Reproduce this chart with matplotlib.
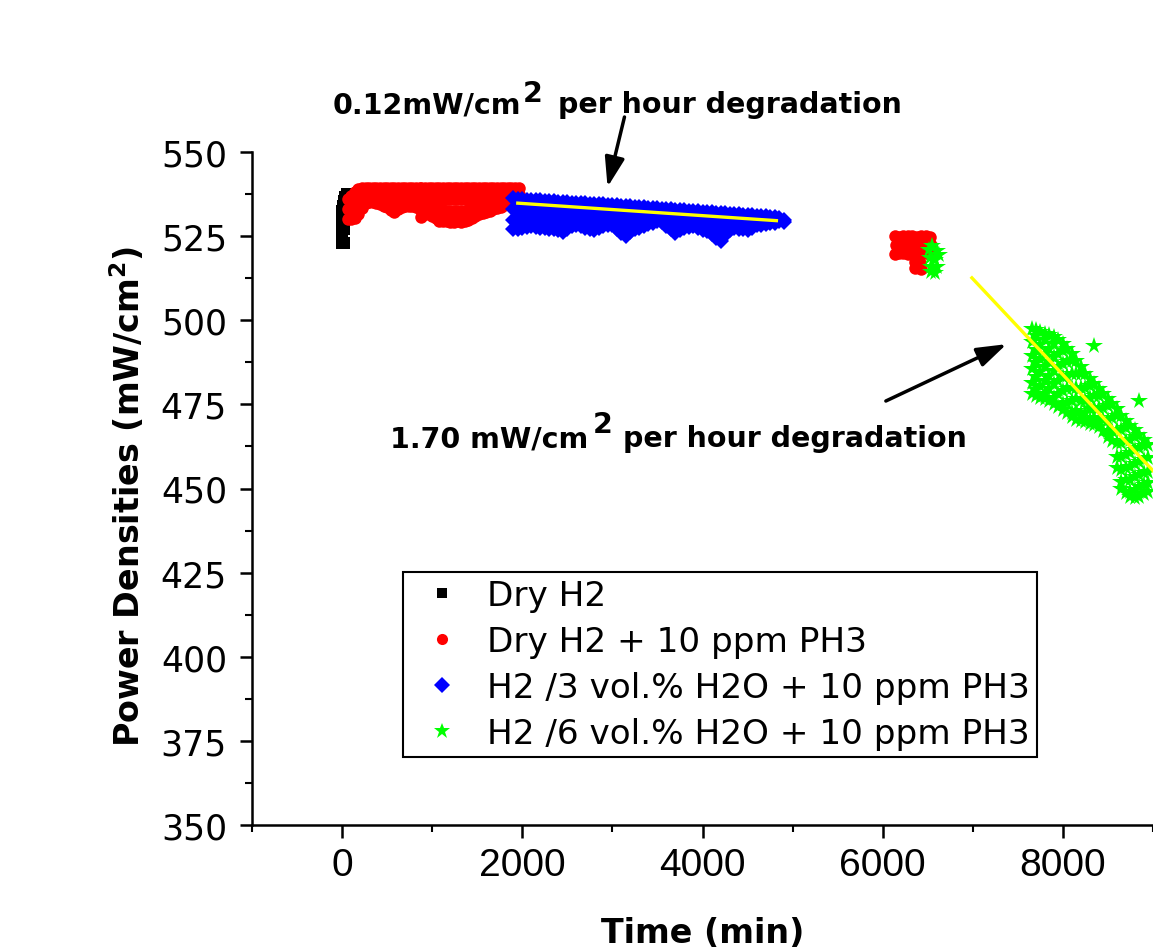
import matplotlib
matplotlib.use("Agg")
import matplotlib.pyplot as plt
from matplotlib.lines import Line2D
from matplotlib.ticker import MultipleLocator

W, H = 1153, 953

# ---------------- data ----------------
series_labels = ["Dry H2", "Dry H2 + 10 ppm PH3",
                 "H2 /3 vol.% H2O + 10 ppm PH3", "H2 /6 vol.% H2O + 10 ppm PH3"]

x_ticks = [0, 2000, 4000, 6000, 8000]
y_ticks = [350, 375, 400, 425, 450, 475, 500, 525, 550]

# Dry H2 (time in min, power density readings)
dry_t = [0, 0, 0, 0, 0, 25, 25, 10, 20, 35, 50]
dry_v = [523, 525.5, 528, 530.5, 532.5, 523, 527, 534, 535.5, 536.5, 537.5]

# Dry H2 + 10 ppm PH3 : readings grouped by time (first period)
ph3_col_t = [60, 100, 140, 180, 220, 260, 300, 340, 380, 420, 460, 500, 540, 580, 620,
             660, 700, 740, 780, 820, 860, 880, 920, 960, 1000, 1040, 1080, 1120, 1160,
             1200, 1240, 1280, 1320, 1360, 1400, 1440, 1480, 1520, 1560, 1600, 1640,
             1680, 1720, 1760, 1800, 1840, 1880, 1920, 1960]
ph3_col_v = [[536, 533, 530], [537, 533.5, 530], [538, 535, 532, 530.3],
             [539, 536, 533, 531.5], [539.3, 536.5, 533.5], [539.3, 537, 534.7],
             [539.3, 537, 535], [539.3, 537, 535], [539.3, 537, 534.8],
             [539.3, 537, 534.5], [539.3, 536.5, 534], [539.3, 536.5, 533.6],
             [539.3, 536, 532.8], [539.3, 536, 532.2], [539.3, 536.5, 533.2],
             [539.3, 536.5, 533.8], [539.3, 536.5, 534], [539.3, 536.5, 534],
             [539.3, 536.5, 534], [539.3, 536.5, 533.8], [539.3, 536, 533],
             [539.3, 536, 533, 530.6], [539.3, 536, 533.5, 531.5], [539.3, 536.3, 533.6, 531.6],
             [539.3, 536.2, 533.2, 531], [539.3, 536, 533, 530.5], [539.3, 536, 532.7, 529.6],
             [539.3, 536, 532.7, 529.5], [539.3, 536, 532.6, 529.4], [539.3, 536, 532.6, 529.3],
             [539.3, 536, 532.6, 529.3], [539.3, 536, 532.6, 529.5], [539.3, 536, 532.6, 529.3],
             [539.3, 536, 532.6, 529.5], [539.3, 536, 532.7, 529.8], [539.3, 536, 533, 530.5],
             [539.3, 536.2, 533.2, 531], [539.3, 536.4, 533.5, 531.6], [539.3, 536.4, 533.5, 531.8],
             [539.3, 536.5, 533.8, 532.2], [539.3, 536.5, 534, 532.6], [539.3, 536.5, 534, 533],
             [539.3, 536.5, 533.4], [539.3, 536.5, 533.6], [539.3, 536.8, 534.2],
             [539.3, 537, 534.6], [539.3, 537.2, 535.2], [539.3, 537.5, 536], [539.3, 537.6, 536]]

# Dry H2 + 10 ppm PH3 (second period, ~6100-6550 min)
ph3b_t = [6140, 6180, 6230, 6280, 6330, 6380, 6430, 6480, 6530,
          6150, 6200, 6250, 6300, 6350, 6400, 6450, 6500, 6540,
          6140, 6180, 6230, 6280, 6330, 6380, 6430, 6480, 6530,
          6360, 6410, 6360, 6420]
ph3b_v = [525, 524.8, 525.1, 524.9, 525, 524.7, 525, 524.9, 524.8,
          522.3, 522.6, 522.2, 522.4, 522.3, 522.5, 522.1, 522.4, 522.3,
          519.8, 520, 519.9, 519.7, 520, 519.8, 519.9, 520, 519.7,
          517.3, 517.1, 515.5, 515.3]

# H2 / 3 vol.% H2O + 10 ppm PH3 : readings grouped by time
h3_col_t = [1900, 1950, 2000, 2050, 2100, 2150, 2200, 2250, 2300, 2350, 2400, 2450,
            2500, 2550, 2600, 2650, 2700, 2750, 2800, 2850, 2900, 2950, 3000, 3050,
            3100, 3150, 3200, 3250, 3300, 3350, 3400, 3450, 3500, 3550, 3600, 3650,
            3700, 3750, 3800, 3850, 3900, 3950, 4000, 4050, 4100, 4150, 4200, 4250,
            4300, 4350, 4400, 4450, 4500, 4550, 4600, 4650, 4700, 4750, 4800, 4850, 4900]
h3_col_v = [[536.2, 533, 529.8, 527], [536, 533, 530, 527.2], [535.9, 533, 530, 527.5],
            [535.8, 533, 530, 527.7], [535.8, 533, 530.2, 528], [535.7, 532.8, 530, 527.7],
            [535.6, 532.8, 530, 527.5], [535.5, 532.7, 529.8, 527.4], [535.4, 532.6, 529.8, 527.2],
            [535.3, 532.5, 529.5, 527.2], [535.2, 532.4, 529.4, 526.8], [535.1, 532.3, 529.2, 526.3],
            [535, 532.3, 529.5, 527.2], [534.9, 532.3, 529.8, 528], [534.8, 532.3, 530, 528.4],
            [534.8, 532.2, 529.8, 528], [534.7, 532, 529.4, 527.5], [534.6, 532, 529.2, 527.2],
            [534.5, 531.9, 529, 526.9], [534.4, 531.8, 529.2, 527.4], [534.4, 531.8, 529.5, 527.9],
            [534.3, 531.8, 529.8, 528.2], [534.2, 531.7, 529.8, 528.4], [534.2, 531.6, 529.2, 527.2],
            [534.1, 531.5, 528.8, 526], [534, 531.3, 528.4, 525], [533.9, 531.3, 528.6, 526.2],
            [533.8, 531.3, 529, 527.2], [533.7, 531.3, 529.2, 527.4], [533.6, 531.3, 529.5, 528],
            [533.5, 531.3, 529.6, 528.7], [533.4, 531.3, 529.7, 529], [533.3, 531.3, 529.4],
            [533.2, 531.2, 529.2], [533.1, 531, 528.8, 528], [533, 530.8, 528.5, 527],
            [532.9, 530.6, 528.2, 526], [532.8, 530.6, 528.3, 526.7], [532.7, 530.6, 528.5, 527.4],
            [532.6, 530.5, 528.7, 527.7], [532.5, 530.4, 528.8, 527.9], [532.4, 530.3, 528.5, 527.4],
            [532.3, 530.2, 528.2, 526.8], [532.2, 530, 528, 526.4], [532.1, 529.8, 527.3, 525.5],
            [532, 529.6, 526.8, 524.5], [531.9, 529.5, 526.4, 523.6], [531.8, 529.5, 527, 525.2],
            [531.7, 529.5, 527.8, 526.8], [531.6, 529.5, 528, 527.4], [531.5, 529.4, 527.8, 527.2],
            [531.4, 529.3, 527.7, 527], [531.3, 529.2, 527.5, 526.9], [531.2, 529.2, 527.7, 527.4],
            [531.1, 529.3, 528.2], [531, 529.5, 528.4], [530.9, 529.6, 528.6],
            [530.8, 529.7, 528.8], [530.7, 529.8, 529], [530.5, 529.7, 529.4], [529.9, 529.3]]

# H2 / 6 vol.% H2O + 10 ppm PH3 : readings grouped by time
h6_col_t = [6510, 6550, 6600, 6630, 6520, 6580, 6540, 6600, 6540, 6580,
            7660, 7700, 7750, 7800, 7850, 7900, 7950, 8000, 8050, 8100, 8150, 8200,
            8250, 8300, 8350, 8400, 8450, 8500, 8550, 8600, 8650, 8700, 8750, 8800,
            8850, 8900, 8950, 8340, 8840]
h6_col_v = [[521], [522], [520.5], [519.5], [518.5], [518], [515.8], [515.8], [514.2], [514],
            [497.5, 493.5, 489.5, 485.5, 481.5, 478],
            [497.2, 495.2, 491.2, 487.2, 483.2, 479.2, 477.5],
            [496.5, 492.5, 488.5, 484.5, 480.5, 477],
            [496, 494, 490, 486, 482, 478, 476.5],
            [495.5, 491.5, 487.5, 483.5, 479.5, 476],
            [495, 493, 489, 485, 481, 477, 475],
            [494, 490, 486, 482, 478, 474.3],
            [493, 491, 487, 483, 479, 475, 473.3],
            [491.5, 487.5, 483.5, 479.5, 475.5, 472.5],
            [490, 488, 484, 480, 476, 472.5, 471.2],
            [488, 484, 480, 476.5, 473, 470.3],
            [486, 484, 480, 476, 472, 470],
            [484, 480, 476, 472.5, 469.7],
            [482.5, 480.5, 477, 473.5, 470.5, 469.2],
            [481, 477.5, 474, 471, 468.8],
            [479.5, 477.5, 474, 470.5, 468.3],
            [478, 474, 470.3, 467],
            [476.5, 474.5, 470.5, 467, 465.3],
            [475, 471, 467.2, 464],
            [473.5, 471.5, 467.5, 463.5, 459.5, 456],
            [471.5, 467.5, 463.5, 459.5, 455.5, 452, 450],
            [470, 468, 464, 460, 456, 452.5, 448.8],
            [468.5, 464.5, 460.5, 456.5, 452.5, 449, 447.5],
            [467.3, 465.3, 461.3, 457.3, 453.3, 449.5, 447.2],
            [466, 462, 458, 454, 450.5, 447.5],
            [464.5, 462.5, 458.5, 454.5, 451, 448.5],
            [463, 459, 455, 451.5, 449],
            [492.4], [476]]

# linear degradation fits
fit3_t = [1950, 4820]
fit3_v = [534.8, 529.6]
fit6_t = [6990, 9000]
fit6_v = [512.6, 455.3]


def flatten(col_t, col_v):
    ts = [t for t, vs in zip(col_t, col_v) for _ in vs]
    vs = [v for vals in col_v for v in vals]
    return ts, vs


# ---------------- figure ----------------
ph3_t, ph3_v = flatten(ph3_col_t, ph3_col_v)
h3_t, h3_v = flatten(h3_col_t, h3_col_v)
h6_t, h6_v = flatten(h6_col_t, h6_col_v)

fig = plt.figure(figsize=(W / 100, H / 100), dpi=100)
ax = fig.add_axes([252 / W, 1 - 826 / H, 901 / W, 673 / H])

ax.plot(dry_t, dry_v, "s", color="black", ms=9, mew=0, zorder=3)
ax.plot(ph3_t + ph3b_t, ph3_v + ph3b_v, "o", color="#ff0000", ms=9, mew=0, zorder=4)
ax.plot(h3_t, h3_v, "D", color="#0000ff", ms=8, mew=0, zorder=5)
ax.plot(h6_t, h6_v, "*", color="#00ff00", ms=13, mew=0, zorder=6)
ax.plot(fit3_t, fit3_v, color="#ffff00", lw=2.4, zorder=7)
ax.plot(fit6_t, fit6_v, color="#ffff00", lw=2.4, zorder=7)

ax.set_xlim(-1000, 9000)
ax.set_ylim(350, 550)
ax.set_xticks(x_ticks)
ax.set_xticklabels([str(v) for v in x_ticks], fontfamily="Liberation Sans")
ax.set_yticks(y_ticks)
ax.xaxis.set_minor_locator(MultipleLocator(1000))
ax.yaxis.set_minor_locator(MultipleLocator(12.5))

for s in ["top", "right"]:
    ax.spines[s].set_visible(False)
for s in ["left", "bottom"]:
    ax.spines[s].set_linewidth(1.8)

ax.tick_params(which="major", direction="out", length=9, width=1.8)
ax.tick_params(which="minor", direction="out", length=5, width=1.5)
ax.tick_params(axis="y", labelsize=25, pad=9)
ax.tick_params(axis="x", labelsize=28, pad=7)

ax.set_xlabel("Time (min)", fontsize=24, fontweight="bold", va="baseline")
ax.xaxis.set_label_coords(0.5, (826 - 943) / 673)
ax.set_ylabel(r"Power Densities (mW/cm$^{\mathbf{2}}$)", fontsize=24, fontweight="bold",
              va="baseline")
ax.yaxis.set_label_coords((140 - 252) / 901, (826 - 496) / 673)

# legend
handles = [
    Line2D([], [], ls="none", marker="s", color="black", ms=6.5, mew=0),
    Line2D([], [], ls="none", marker="o", color="#ff0000", ms=8, mew=0),
    Line2D([], [], ls="none", marker="D", color="#0000ff", ms=8, mew=0),
    Line2D([], [], ls="none", marker="*", color="#00ff00", ms=12, mew=0),
]
leg = ax.legend(handles, series_labels, loc="upper left",
                bbox_to_anchor=(403 / W, 1 - 573 / H), bbox_transform=fig.transFigure,
                fontsize=24.7, frameon=True, fancybox=False, edgecolor="black",
                borderpad=0.2, handlelength=1.9, handletextpad=0.36, labelspacing=0.38,
                borderaxespad=0, numpoints=1)
leg.get_frame().set_linewidth(1.5)
leg.get_frame().set_alpha(None)


def ftxt(x, y, s):
    return fig.text(x / W, 1 - y / H, s, fontsize=20.5, fontweight="bold",
                    va="baseline", ha="left")


ftxt(333, 113, "0.12mW/cm")
ftxt(523, 102, "2")
ftxt(558, 113, "per hour degradation")
ftxt(390, 447, "1.70 mW/cm")
ftxt(593, 433, "2")
ftxt(623, 447, "per hour degradation")

arrow_kw = dict(arrowstyle="-|>,head_length=0.9,head_width=0.3", color="black",
                lw=2.5, mutation_scale=20, shrinkA=0, shrinkB=0)
ax.annotate("", xy=(2946, 539.6), xytext=(3134, 560.4), arrowprops=arrow_kw,
            annotation_clip=False)
ax.annotate("", xy=(7375, 492.9), xytext=(6035, 476), arrowprops=arrow_kw,
            annotation_clip=False)

fig.savefig("out.png", dpi=100, facecolor="white")
